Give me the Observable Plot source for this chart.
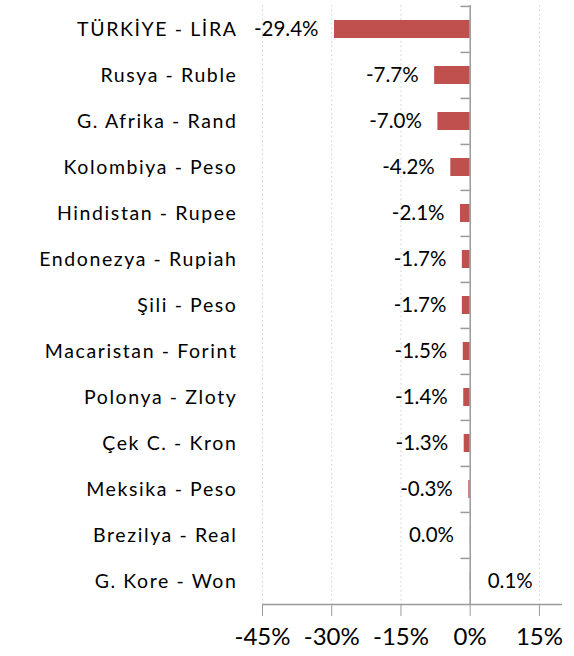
<!DOCTYPE html>
<html>
<head>
<meta charset="utf-8">
<script src="https://cdn.jsdelivr.net/npm/d3@7"></script>
<script src="https://cdn.jsdelivr.net/npm/@observablehq/plot@0.6"></script>
<style>
  html, body { margin: 0; padding: 0; background: #fff; }
  #chart svg { display: block; }
  #chart g[aria-label="y-axis tick label"] text { letter-spacing: 1.6px; }
</style>
</head>
<body>
<div id="chart"></div>
<script>
const categories = ["TÜRKİYE - LİRA","Rusya - Ruble","G. Afrika - Rand","Kolombiya - Peso","Hindistan - Rupee","Endonezya - Rupiah","Şili - Peso","Macaristan - Forint","Polonya - Zloty","Çek C. - Kron","Meksika - Peso","Brezilya - Real","G. Kore - Won"];
const values = [-29.4, -7.7, -7.0, -4.2, -2.1, -1.7, -1.7, -1.5, -1.4, -1.3, -0.3, -0.04, 0.1];
const xTicks = [-45, -30, -15, 0, 15];
const gridTicks = [-45, -30, -15, 15];

const data = categories.map((c, i) => ({cat: c, v: values[i]}));
const fmt = v => (Math.round(v * 10) / 10 || 0).toFixed(1) + "%";

const step = 600 / 13;

const chart = Plot.plot({
  width: 574,
  height: 656,
  marginLeft: 262,
  marginRight: 12,
  marginTop: 5,
  marginBottom: 51,
  style: {fontFamily: "Lato, 'Open Sans', sans-serif", color: "#000", background: "#fff"},
  x: {domain: [-45, 20]},
  y: {domain: categories, paddingInner: 0.6, paddingOuter: 0.3},
  marks: [
    Plot.ruleX(gridTicks, {stroke: "#d0d0d0", strokeDasharray: "1.5,3"}),
    Plot.barX(data, {x: "v", y: "cat", fill: d => d.v >= 0.05 ? "#4F81BD" : "#C0504D"}),
    Plot.ruleX([0], {stroke: "#9a9a9a", strokeWidth: 1.5}),
    Plot.ruleY(categories, {y: d => d, x1: -2, x2: 0, dy: -step / 2, stroke: "#9a9a9a", strokeWidth: 1.5}),
    Plot.ruleY([categories[categories.length - 1]], {y: d => d, dy: step / 2, stroke: "#9a9a9a", strokeWidth: 1.5}),
    Plot.text(data.filter(d => d.v < 0.05), {x: "v", y: "cat", text: d => fmt(d.v), textAnchor: "end", dx: -16, fontSize: 20.5, fill: "#000"}),
    Plot.text(data.filter(d => d.v >= 0.05), {x: "v", y: "cat", text: d => fmt(d.v), textAnchor: "start", dx: 17, fontSize: 20.5, fill: "#000"}),
    Plot.axisY({tickSize: 0, tickPadding: 25, fontSize: 19.5, fill: "#000", label: null}),
    Plot.axisX({ticks: xTicks, tickSize: 11, tickPadding: 11, tickFormat: d => d + "%", fontSize: 24, stroke: "#9a9a9a", fill: "#000", label: null})
  ]
});
document.getElementById("chart").appendChild(chart);
</script>
</body>
</html>
